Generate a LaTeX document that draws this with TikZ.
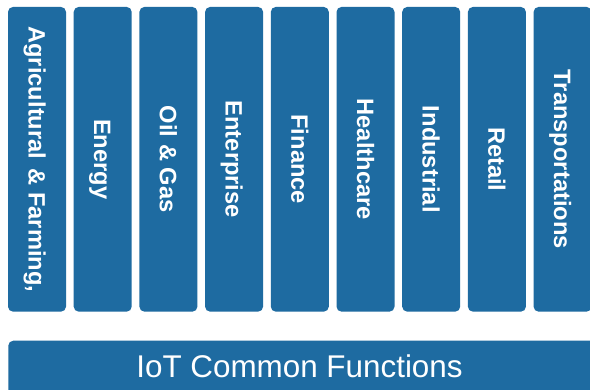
\documentclass[tikz,border=0pt]{standalone}
\usepackage{fontspec}
\setmainfont{Liberation Sans}
\definecolor{iotblue}{RGB}{30,107,161}
\begin{document}
\begin{tikzpicture}[x=1pt,y=-1pt,
  sector/.style={fill=iotblue, rounded corners=5pt, rotate=-90,
    minimum width=304.7pt, minimum height=58pt, inner sep=0pt,
    text=white, font=\bfseries\fontsize{23.7}{24}\selectfont,
    text height=17pt, text depth=0pt},
  basebar/.style={fill=iotblue, rounded corners=5pt},
  baselabel/.style={text=white, font=\fontsize{31.4}{32}\selectfont, inner sep=0pt,
    text height=22.5pt, text depth=0pt}]
\useasboundingbox (0,0) rectangle (590,390);
\clip (0,0) rectangle (590,390);
\fill[white] (0,0) rectangle (590,390);
\foreach \lbl [count=\i from 0] in {{Agricultural\hspace{2.5pt} \& Farming,},{Energy},{Oil \& Gas},{Enterprise},{Finance},{Healthcare},{Industrial},{Retail},{Transportations}}{
  \node[sector] (s\i) at (37+65.7*\i,159.3) {\lbl};
}
\path[basebar] (8.3,340.7) rectangle (640,430);
\coordinate (barc) at (299.5,366);
\node[baselabel] (bar) at (barc) {IoT Common Functions};
\end{tikzpicture}
\end{document}
